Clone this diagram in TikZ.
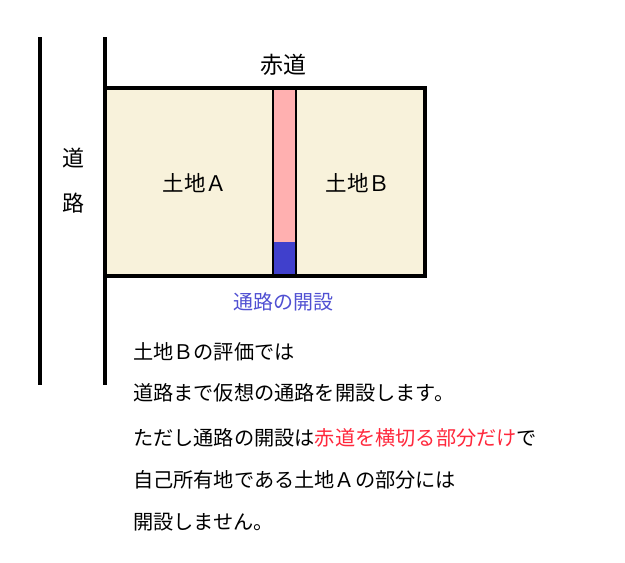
\documentclass[tikz,border=0pt]{standalone}
\usepackage{fontspec}
\setmainfont{Noto Sans CJK JP}
\usepackage{tikz}

\definecolor{landfill}{RGB}{248,242,219}
\definecolor{redroad}{RGB}{255,176,176}
\definecolor{newroad}{RGB}{64,64,204}
\definecolor{newtext}{RGB}{80,80,210}
\definecolor{redtext}{RGB}{255,40,60}

\begin{document}
\begin{tikzpicture}[x=1pt,y=-1pt]
  \useasboundingbox (0,0) rectangle (625,563);

  % Road lines
  \draw[line width=4pt] (40,37) -- (40,385);
  \draw[line width=4pt] (105,37) -- (105,385);

  % Land outline and red road strip
  \coordinate (NW) at (105,88);
  \coordinate (SE) at (425,276);
  \fill[landfill] (NW) rectangle (SE);
  \fill[redroad] (273,88) rectangle (296,276);
  \fill[newroad] (273,242) rectangle (296,276);
  \draw[line width=2pt] (273,88) -- (273,276);
  \draw[line width=2pt] (296,88) -- (296,276);
  \draw[line width=4pt] (NW) rectangle (SE);

  % Labels
  \node[font=\fontsize{23}{27}\selectfont] (akamichi) at (283,65) {赤道};
  \node[font=\fontsize{22}{26}\selectfont] (do) at (73,158) {道};
  \node[font=\fontsize{22}{26}\selectfont] (ro) at (73,203) {路};
  \node[font=\fontsize{21.5}{26}\selectfont] (landA) at (195,183) {土地Ａ};
  \node[font=\fontsize{21.5}{26}\selectfont] (landB) at (358,183) {土地Ｂ};
  \node[font=\fontsize{20}{24}\selectfont,text=newtext] (kaisetsu) at (283,302) {通路の開設};

  % Explanation (one node per line)
  \def\fs{\fontsize{20.2}{24}\selectfont}
  \node[font=\fs,anchor=west,inner sep=0pt] (l1) at (133,352) {土地Ｂの評価では};
  \node[font=\fs,anchor=west,inner sep=0pt] (l2) at (133,393) {道路まで仮想の通路を開設します。};
  \node[font=\fs,anchor=west,inner sep=0pt] (l3) at (133,438) {ただし通路の開設は\textcolor{redtext}{赤道を横切る部分だけ}で};
  \node[font=\fs,anchor=west,inner sep=0pt] (l4) at (133,480) {自己所有地である土地Ａの部分には};
  \node[font=\fs,anchor=west,inner sep=0pt] (l5) at (133,522) {開設しません。};
\end{tikzpicture}
\end{document}
